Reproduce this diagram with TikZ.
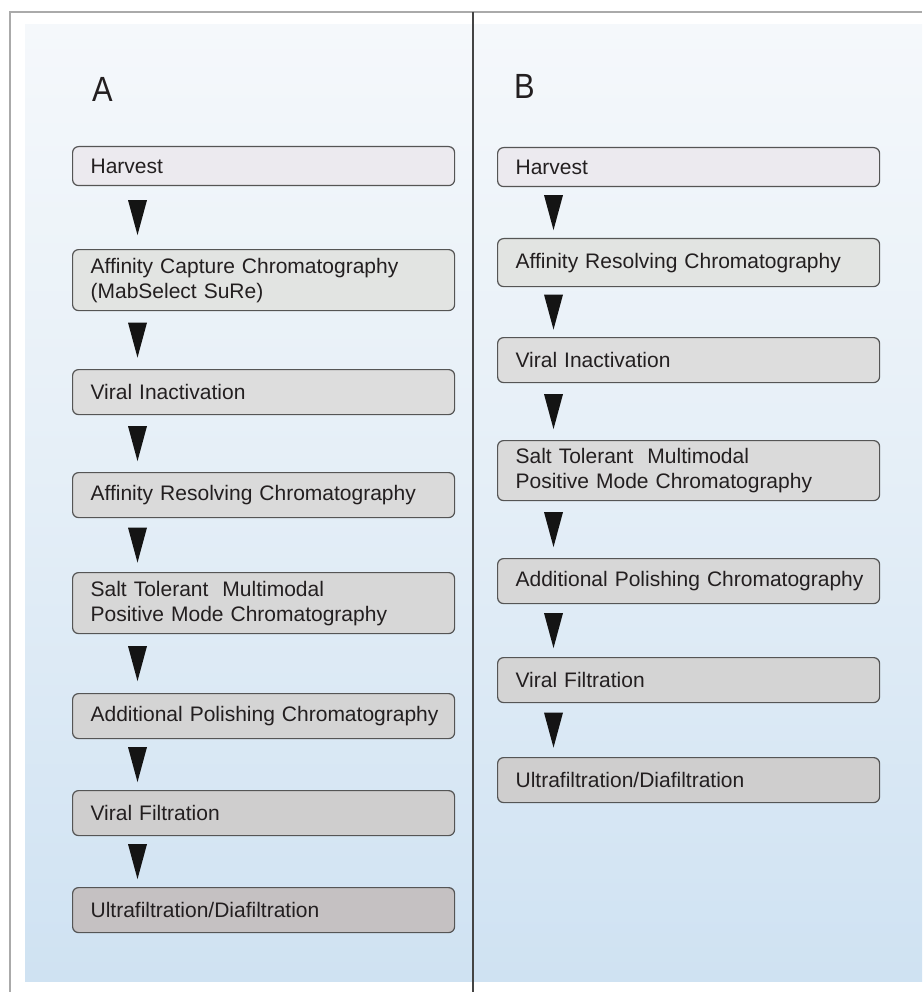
\documentclass[tikz,border=0pt]{standalone}
\usepackage{fontspec}
\setmainfont{Liberation Sans}
\usetikzlibrary{calc}
\hfuzz=30pt\relax
\hbadness=10000\relax
\definecolor{framecol}{HTML}{AAAAAA}
\definecolor{divcol}{HTML}{444444}
\definecolor{bgtop}{HTML}{F5F8FB}
\definecolor{bgbot}{HTML}{CFE2F2}
\definecolor{boxline}{HTML}{555555}
\definecolor{textcol}{HTML}{231F20}
\definecolor{fa}{HTML}{ECEAEF}
\definecolor{fb}{HTML}{E2E4E2}
\definecolor{fc}{HTML}{DDDDDD}
\definecolor{fd}{HTML}{DADADA}
\definecolor{fe}{HTML}{D7D7D7}
\definecolor{ff}{HTML}{D4D4D4}
\definecolor{fg}{HTML}{CFCECE}
\definecolor{fh}{HTML}{C5C1C2}
\tikzset{
  stepbox/.style={draw=boxline, line width=1.2pt, rounded corners=6pt,
    anchor=north west, inner xsep=18pt, inner ysep=0pt, align=left,
    text width=346pt, minimum width=382pt,
    font=\fontsize{21}{25}\selectfont, text=textcol},
  panellabel/.style={anchor=base west, inner sep=0pt, text=textcol,
    font=\fontsize{35}{35}\selectfont, xscale=0.88},
  tri/.style={fill=black!92},
}
\newcommand\flowarrow[3]{%
  \fill[tri] ($(#1.south west)!0.5!(#2.north west)$) ++(#3,-17.5) -- ++(19,0) -- ++(-9.5,35) -- cycle;}
\begin{document}
\begin{tikzpicture}[x=1pt,y=-1pt]
\useasboundingbox (0,0) rectangle (922,992);
% background
\shade[top color=bgtop, bottom color=bgbot, middle color=bgtop!55!bgbot] (25,25) rectangle (922,981);
% frame
\draw[framecol, line width=1.5pt] (10,992) -- (10,12) -- (922,12);
\draw[divcol, line width=1.3pt] (473,12) -- (473,992);
% labels
\node[panellabel] (la) at (92,102) {A};
\node[panellabel] (lb) at (514,99) {B};
% column A
\node[stepbox, fill=fa, minimum height=39pt] (a1) at (72,146) {Harvest};
\node[stepbox, fill=fb, minimum height=61pt] (a2) at (72,249) {Affinity Capture Chromatography\\(MabSelect SuRe)};
\node[stepbox, fill=fc, minimum height=45pt] (a3) at (72,369) {Viral Inactivation};
\node[stepbox, fill=fd, minimum height=45pt] (a4) at (72,472) {Affinity Resolving Chromatography};
\node[stepbox, fill=fe, minimum height=61pt] (a5) at (72,572) {Salt Tolerant\ \ Multimodal\\Positive Mode Chromatography};
\node[stepbox, fill=ff, minimum height=45pt] (a6) at (72,693) {\mbox{Additional Polishing Chromatography}};
\node[stepbox, fill=fg, minimum height=45pt] (a7) at (72,790) {Viral Filtration};
\node[stepbox, fill=fh, minimum height=45pt] (a8) at (72,887) {Ultrafiltration/Diafiltration};
\flowarrow{a1}{a2}{56}
\flowarrow{a2}{a3}{56}
\flowarrow{a3}{a4}{56}
\flowarrow{a4}{a5}{56}
\flowarrow{a5}{a6}{56}
\flowarrow{a6}{a7}{56}
\flowarrow{a7}{a8}{56}
% column B
\node[stepbox, fill=fa, minimum height=39pt] (b1) at (497,147) {Harvest};
\node[stepbox, fill=fb, minimum height=48pt] (b2) at (497,238) {Affinity Resolving Chromatography};
\node[stepbox, fill=fc, minimum height=45pt] (b3) at (497,337) {Viral Inactivation};
\node[stepbox, fill=fd, minimum height=60pt] (b4) at (497,440) {Salt Tolerant\ \ Multimodal\\Positive Mode Chromatography};
\node[stepbox, fill=fe, minimum height=45pt] (b5) at (497,558) {\mbox{Additional Polishing Chromatography}};
\node[stepbox, fill=ff, minimum height=45pt] (b6) at (497,657) {Viral Filtration};
\node[stepbox, fill=fg, minimum height=45pt] (b7) at (497,757) {Ultrafiltration/Diafiltration};
\flowarrow{b1}{b2}{47}
\flowarrow{b2}{b3}{47}
\flowarrow{b3}{b4}{47}
\flowarrow{b4}{b5}{47}
\flowarrow{b5}{b6}{47}
\flowarrow{b6}{b7}{47}
\end{tikzpicture}
\end{document}
